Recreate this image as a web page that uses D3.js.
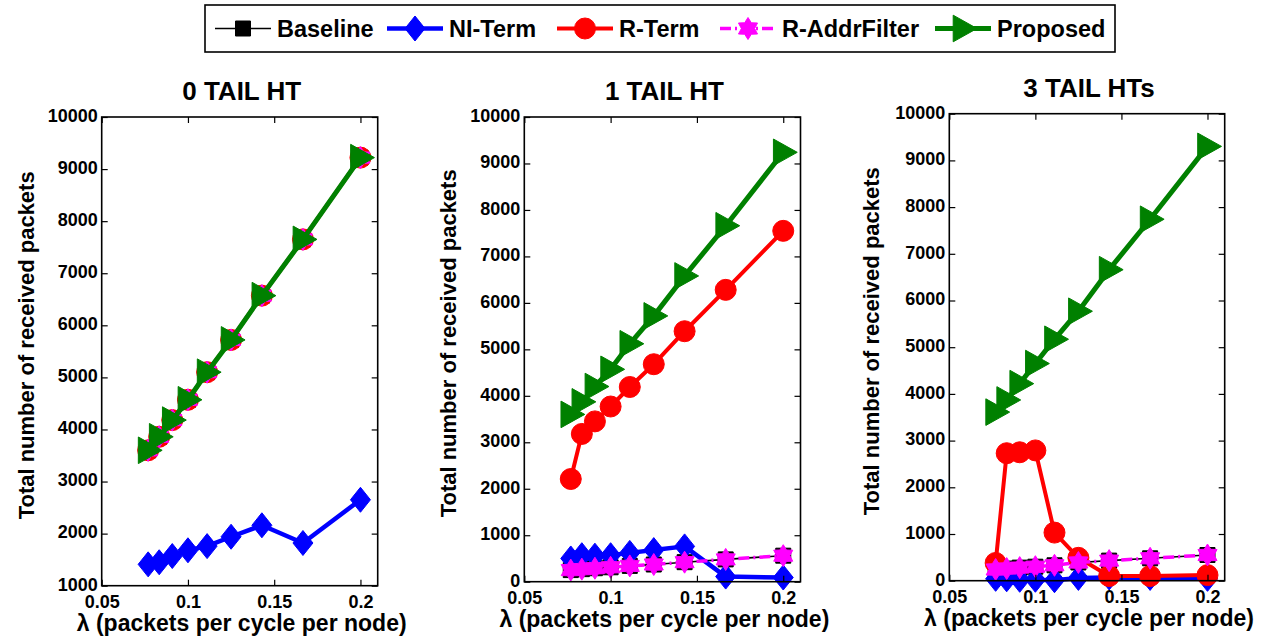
<!DOCTYPE html>
<html>
<head>
<meta charset="utf-8">
<script src="https://cdn.jsdelivr.net/npm/d3@7"></script>
<style>
  html, body { margin: 0; padding: 0; background: #fff; }
  svg { display: block; font-family: "Liberation Sans", Arial, Helvetica, sans-serif; }
</style>
</head>
<body>
<svg id="chart" width="1272" height="644"></svg>
<script>
// ---------------- DATA ----------------
const xValues = [1/13, 1/12, 1/11, 1/10, 1/9, 1/8, 1/7, 1/6, 1/5];
const xTicks = [0.05, 0.1, 0.15, 0.2];
const xTickLabels = ["0.05", "0.1", "0.15", "0.2"];
const seriesNames = ["Baseline", "NI-Term", "R-Term", "R-AddrFilter", "Proposed"];
const panelTitles = ["0 TAIL HT", "1 TAIL HT", "3 TAIL HTs"];
const xLabel = "λ (packets per cycle per node)";
const yLabel = "Total number of received packets";

// 0 TAIL HT
const tail0Baseline    = [3600, 3860, 4180, 4570, 5100, 5720, 6570, 7650, 9220];
const tail0NITerm      = [1410, 1450, 1570, 1680, 1760, 1940, 2160, 1820, 2650];
const tail0RTerm       = [3600, 3860, 4180, 4570, 5100, 5720, 6570, 7650, 9220];
const tail0RAddrFilter = [3600, 3860, 4180, 4570, 5100, 5720, 6570, 7650, 9220];
const tail0Proposed    = [3600, 3860, 4180, 4570, 5100, 5720, 6570, 7650, 9220];
// 1 TAIL HT
const tail1Baseline    = [250, 270, 290, 310, 340, 370, 420, 480, 560];
const tail1NITerm      = [500, 570, 560, 570, 620, 680, 760, 110, 90];
const tail1RTerm       = [2210, 3180, 3450, 3770, 4190, 4680, 5390, 6280, 7550];
const tail1RAddrFilter = [250, 270, 290, 310, 340, 370, 420, 480, 560];
const tail1Proposed    = [3600, 3870, 4200, 4570, 5120, 5720, 6580, 7660, 9240];
// 3 TAIL HTs
const tail3Baseline    = [240, 260, 280, 300, 330, 390, 430, 480, 550];
const tail3NITerm      = [40, 30, 20, 20, 10, 60, 70, 60, 40];
const tail3RTerm       = [380, 2730, 2750, 2790, 1030, 490, 100, 100, 120];
const tail3RAddrFilter = [240, 260, 280, 300, 330, 390, 430, 480, 550];
const tail3Proposed    = [3610, 3870, 4220, 4650, 5170, 5770, 6660, 7740, 9300];

const yDomains = [[1000, 10000], [0, 10000], [0, 10000]];
const yTicks = [
  d3.range(1000, 10001, 1000),
  d3.range(0, 10001, 1000),
  d3.range(0, 10001, 1000)
];
const panelSeries = [
  [tail0Baseline, tail0NITerm, tail0RTerm, tail0RAddrFilter, tail0Proposed],
  [tail1Baseline, tail1NITerm, tail1RTerm, tail1RAddrFilter, tail1Proposed],
  [tail3Baseline, tail3NITerm, tail3RTerm, tail3RAddrFilter, tail3Proposed]
];

// ---------------- STYLE / LAYOUT ----------------
const styles = [
  { color: "#000000", width: 1.6, dash: null,        marker: "square",   size: 15 },
  { color: "#0000ff", width: 4.5, dash: null,        marker: "diamond",  size: 25 },
  { color: "#ff0000", width: 4,   dash: null,        marker: "circle",   size: 21 },
  { color: "#ff00ff", width: 3.5, dash: "11,4,2,4",  marker: "hexagram", size: 22 },
  { color: "#008000", width: 5,   dash: null,        marker: "triangle", size: 28 }
];
const panels = [
  { left: 101.7, right: 377.7, top: 117,   bottom: 585.7, yLabelX: 34 },
  { left: 524.3, right: 800.5, top: 117,   bottom: 581.7, yLabelX: 456 },
  { left: 949.3, right: 1224.7, top: 113.7, bottom: 580.7, yLabelX: 879 }
];

const svg = d3.select("#chart");

function markerPath(type, s) {
  const h = s / 2;
  if (type === "square") {
    return `M${-h},${-h}L${h},${-h}L${h},${h}L${-h},${h}Z`;
  }
  if (type === "diamond") {
    const w = h * 0.8;
    return `M0,${-h}L${w},0L0,${h}L${-w},0Z`;
  }
  if (type === "circle") {
    return `M${h},0A${h},${h} 0 1,1 ${-h},0A${h},${h} 0 1,1 ${h},0Z`;
  }
  if (type === "triangle") {
    return `M${h},0L${-h * 0.7},${-h * 0.95}L${-h * 0.7},${h * 0.95}Z`;
  }
  if (type === "hexagram") {
    const R = h, r = h * 0.6;
    let p = "";
    for (let i = 0; i < 12; i++) {
      const a = -Math.PI / 2 + i * Math.PI / 6;
      const rad = i % 2 === 0 ? R : r;
      p += (i === 0 ? "M" : "L") + (rad * Math.cos(a)).toFixed(2) + "," + (rad * Math.sin(a)).toFixed(2);
    }
    return p + "Z";
  }
  return "";
}

function drawMarker(g, type, x, y, st) {
  g.append("path")
    .attr("d", markerPath(type, st.size))
    .attr("transform", `translate(${x},${y})`)
    .attr("fill", st.color)
    .attr("stroke", st.color)
    .attr("stroke-width", 1);
}

panels.forEach((p, pi) => {
  const x = d3.scaleLinear().domain([0.05, 0.21]).range([p.left, p.right]);
  const y = d3.scaleLinear().domain(yDomains[pi]).range([p.bottom, p.top]);
  const g = svg.append("g");

  // data
  const line = d3.line().x((d, i) => x(xValues[i])).y(d => y(d));
  panelSeries[pi].forEach((vals, si) => {
    const st = styles[si];
    const sg = g.append("g");
    sg.append("path")
      .datum(vals)
      .attr("d", line)
      .attr("fill", "none")
      .attr("stroke", st.color)
      .attr("stroke-width", st.width)
      .attr("stroke-linejoin", "round")
      .attr("stroke-dasharray", st.dash);
    vals.forEach((v, i) => drawMarker(sg, st.marker, x(xValues[i]), y(v), st));
  });

  // axes (inward ticks on all four sides)
  const tick = 6;
  const axB = d3.axisBottom(x).tickValues(xTicks).tickFormat((d, i) => xTickLabels[i]).tickSize(-tick).tickSizeOuter(0).tickPadding(6);
  const axT = d3.axisTop(x).tickValues(xTicks).tickFormat("").tickSize(-tick).tickSizeOuter(0);
  const axL = d3.axisLeft(y).tickValues(yTicks[pi]).tickFormat(d3.format("d")).tickSize(-tick).tickSizeOuter(0).tickPadding(6);
  const axR = d3.axisRight(y).tickValues(yTicks[pi]).tickFormat("").tickSize(-tick).tickSizeOuter(0);

  const gB = g.append("g").attr("transform", `translate(0,${p.bottom})`).call(axB);
  const gT = g.append("g").attr("transform", `translate(0,${p.top})`).call(axT);
  const gL = g.append("g").attr("transform", `translate(${p.left},0)`).call(axL);
  const gR = g.append("g").attr("transform", `translate(${p.right},0)`).call(axR);
  [gB, gT, gL, gR].forEach(a => {
    a.select(".domain").remove();
    a.selectAll(".tick line").attr("stroke", "#000").attr("stroke-width", 1.2);
    a.selectAll(".tick text").attr("fill", "#000").attr("font-size", 18).attr("font-weight", "bold").attr("font-family", "Liberation Sans, Arial, sans-serif");
  });
  gB.selectAll(".tick text").attr("y", 0).attr("dy", null).attr("dominant-baseline", null)
    .attr("transform", "translate(0,22.5)");
  gL.selectAll(".tick text").attr("dx", "2px").attr("dy", "0.24em");

  // box
  g.append("rect")
    .attr("x", p.left).attr("y", p.top)
    .attr("width", p.right - p.left).attr("height", p.bottom - p.top)
    .attr("fill", "none").attr("stroke", "#000").attr("stroke-width", 1.6);

  // title
  g.append("text")
    .attr("x", (p.left + p.right) / 2 + 2).attr("y", p.top - 17)
    .attr("text-anchor", "middle").attr("font-size", 26).attr("font-weight", "bold")
    .text(panelTitles[pi]);

  // x label
  g.append("text")
    .attr("x", (p.left + p.right) / 2 + 2).attr("y", p.bottom + 45)
    .attr("text-anchor", "middle").attr("font-size", 23).attr("font-weight", "bold")
    .text(xLabel);

  // y label
  g.append("text")
    .attr("transform", `translate(${p.yLabelX},${(p.top + p.bottom) / 2 - 6}) rotate(-90)`)
    .attr("text-anchor", "middle").attr("font-size", 22).attr("font-weight", "bold")
    .text(yLabel);
});

// ---------------- LEGEND ----------------
const legend = svg.append("g");
legend.append("rect")
  .attr("x", 205).attr("y", 5).attr("width", 910).attr("height", 47)
  .attr("fill", "#fff").attr("stroke", "#000").attr("stroke-width", 1.6);
const legendX = [215, 387, 557, 720, 935];
seriesNames.forEach((name, i) => {
  const st = styles[i];
  const lx = legendX[i], ly = 28.5;
  legend.append("line")
    .attr("x1", lx).attr("x2", lx + 56).attr("y1", ly).attr("y2", ly)
    .attr("stroke", st.color).attr("stroke-width", st.width)
    .attr("stroke-dasharray", st.dash);
  drawMarker(legend, st.marker, lx + 28, ly, st);
  legend.append("text")
    .attr("x", lx + 62).attr("y", ly + 8.5)
    .attr("font-size", 23.5).attr("font-weight", "bold")
    .text(name);
});
</script>
</body>
</html>
